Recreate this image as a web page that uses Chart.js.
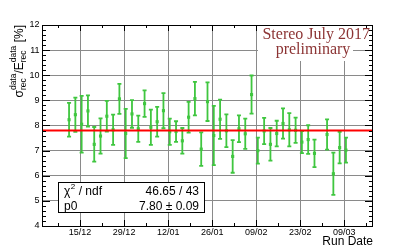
<!DOCTYPE html>
<html>
<head>
<meta charset="utf-8">
<script src="https://cdn.jsdelivr.net/npm/chart.js@4.4.0/dist/chart.umd.min.js"></script>
<style>
  html, body { margin: 0; padding: 0; background: #fff; }
  #wrap { width: 415px; height: 251px; }
</style>
</head>
<body>
<div id="wrap"><canvas id="resChart" width="415" height="251"></canvas></div>
<script>
// run bins (2 days each), day counted from 15/12/2016
const runDays = [-3.5, -1.5, 0.5, 2.5, 4.5, 6.5, 8.5, 10.5, 12.5, 14.5, 16.5, 18.5, 20.5, 22.5, 24.5,
  26.5, 28.5, 30.5, 32.5, 34.5, 36.5, 38.5, 40.5, 42.5, 44.5, 46.5, 48.5, 50.5, 52.5, 54.5,
  56.5, 58.5, 60.5, 62.5, 64.5, 66.5, 68.5, 70.5, 72.5, 74.5, 78.5, 80.5, 82.5, 84.5];
const resolution = [8.23, 8.43, 8.05, 8.58, 7.25, 7.58, 8.37, 7.83, 9.06, 7.68, 8.46, 7.87, 8.87, 7.93, 8.15,
  8.59, 7.75, 7.76, 7.39, 8.33, 9.07, 7.06, 8.95, 7.60, 8.25, 7.79, 6.77, 7.87, 7.67, 9.23,
  7.00, 7.78, 7.25, 7.68, 8.08, 7.83, 7.81, 7.34, 7.44, 6.89, 7.64, 6.08, 7.12, 7.02];
const resolutionErr = [0.67, 0.68, 1.13, 0.62, 0.69, 0.70, 0.61, 0.60, 0.60, 0.98, 0.55, 0.52, 0.53, 0.70, 0.59,
  0.70, 0.52, 0.41, 0.51, 0.61, 0.67, 0.67, 0.77, 1.18, 0.78, 0.65, 0.65, 0.53, 0.60, 0.76,
  0.52, 0.52, 0.65, 0.51, 0.60, 0.66, 0.50, 0.44, 0.57, 0.55, 0.60, 0.84, 0.63, 0.50];

const dateTicks = [0, 14, 28, 42, 56, 70, 84];
const dateLabels = ["15/12", "29/12", "12/01", "26/01", "09/02", "23/02", "09/03"];
const yTicks = [4, 5, 6, 7, 8, 9, 10, 11, 12];

const fitP0 = 7.80, fitP0Err = 0.09, chi2 = 46.65, ndf = 43;

const xMin = -12.1, xMax = 93.1;
const green = "#3fc63f";
const stereoRed = "#8c3434";
Chart.defaults.font.family = '"Liberation Sans", Arial, sans-serif';

// error bars with end caps
const errorBars = {
  id: "errorBars",
  beforeDatasetsDraw(chart) {
    const { ctx, scales: { x, y } } = chart;
    ctx.save();
    ctx.strokeStyle = green;
    ctx.lineWidth = 1.8;
    runDays.forEach((d, i) => {
      const px = x.getPixelForValue(d);
      const top = y.getPixelForValue(resolution[i] + resolutionErr[i]);
      const bot = y.getPixelForValue(resolution[i] - resolutionErr[i]);
      ctx.beginPath();
      ctx.moveTo(px, top); ctx.lineTo(px, bot);
      ctx.moveTo(px - 2, top); ctx.lineTo(px + 2, top);
      ctx.moveTo(px - 2, bot); ctx.lineTo(px + 2, bot);
      ctx.stroke();
    });
    ctx.restore();
  }
};

// frame, inward ticks, title text, stats box
const rootDecor = {
  id: "rootDecor",
  afterDraw(chart) {
    const { ctx, chartArea: a, scales: { x, y } } = chart;
    ctx.save();
    ctx.strokeStyle = "#000";
    ctx.lineWidth = 1;
    ctx.beginPath();
    // x ticks (bottom + top)
    dateTicks.forEach(d => {
      const px = Math.round(x.getPixelForValue(d)) + 0.5;
      ctx.moveTo(px, a.bottom); ctx.lineTo(px, a.bottom - 6);
      ctx.moveTo(px, a.top); ctx.lineTo(px, a.top + 6);
    });
    for (let d = dateTicks[0] - 7; d <= xMax; d += 14) {
      const px = Math.round(x.getPixelForValue(d)) + 0.5;
      ctx.moveTo(px, a.bottom); ctx.lineTo(px, a.bottom - 3);
      ctx.moveTo(px, a.top); ctx.lineTo(px, a.top + 3);
    }
    // y ticks (left + right)
    for (let v = 4; v <= 12.001; v += 0.2) {
      const major = Math.abs(v - Math.round(v)) < 0.01;
      const len = major ? 8 : 4;
      const py = Math.round(y.getPixelForValue(v)) + 0.5;
      ctx.moveTo(a.left, py); ctx.lineTo(a.left + len, py);
      ctx.moveTo(a.right, py); ctx.lineTo(a.right - len, py);
    }
    ctx.stroke();
    ctx.strokeRect(Math.round(a.left) + 0.5, Math.round(a.top) + 0.5,
      Math.round(a.right - a.left) - 1, Math.round(a.bottom - a.top));

    // y title: sigma_rec^data / E_rec^data [%]
    const main = '12px "Liberation Sans"', small = '8.5px "Liberation Sans"';
    ctx.font = main;
    const wSig = ctx.measureText("σ").width, wSl = ctx.measureText("/").width;
    const wE = ctx.measureText("E").width, wTail = ctx.measureText(" [%]").width;
    ctx.font = small;
    const wData = ctx.measureText("data").width;
    const total = wSig + wData + wSl + wE + wData + wTail;
    ctx.save();
    ctx.translate(23, a.top + total);
    ctx.rotate(-Math.PI / 2);
    ctx.fillStyle = "#000";
    ctx.textAlign = "left";
    ctx.textBaseline = "alphabetic";
    let t = 0;
    ctx.font = main; ctx.fillText("σ", t, 0); t += wSig;
    ctx.font = small; ctx.fillText("data", t, -7); ctx.fillText("rec", t, 2.5); t += wData;
    ctx.font = main; ctx.fillText("/", t, 0); t += wSl; ctx.fillText("E", t, 0); t += wE;
    ctx.font = small; ctx.fillText("data", t, -7); ctx.fillText("rec", t, 2.5); t += wData;
    ctx.font = main; ctx.fillText(" [%]", t, 0);
    ctx.restore();

    // Stereo label
    ctx.fillStyle = "#fff";
    ctx.fillRect(258, 26, 95, 35);
    ctx.fillStyle = stereoRed;
    ctx.font = '16px "Liberation Serif", "Times New Roman", serif';
    ctx.textAlign = "right";
    ctx.fillText("Stereo July 2017", 370, 39);
    ctx.textAlign = "center";
    ctx.fillText("preliminary", 313, 54);

    // fit stats box
    ctx.fillStyle = "#fff";
    ctx.fillRect(58.5, 182.5, 146, 30);
    ctx.strokeRect(58.5, 182.5, 146, 30);
    ctx.fillStyle = "#000";
    ctx.font = '12px "Liberation Sans"';
    ctx.textAlign = "left";
    ctx.fillText("χ", 64, 194.5);
    const wChi = ctx.measureText("χ").width;
    ctx.font = '8px "Liberation Sans"';
    ctx.fillText("2", 64 + wChi + 0.5, 189);
    ctx.font = '12px "Liberation Sans"';
    ctx.fillText(" / ndf", 64 + wChi + 5, 194.5);
    ctx.fillText("p0", 64, 209.5);
    ctx.textAlign = "right";
    ctx.fillText(chi2.toFixed(2) + " / " + ndf, 199, 194.5);
    ctx.fillText(fitP0.toFixed(2) + " ± " + fitP0Err.toFixed(2), 199, 209.5);
    ctx.restore();
  }
};

new Chart(document.getElementById("resChart"), {
  type: "scatter",
  data: {
    datasets: [
      {
        label: "fit p0",
        type: "line",
        data: [{ x: xMin, y: fitP0 }, { x: xMax, y: fitP0 }],
        borderColor: "#ff0000",
        borderWidth: 2,
        pointRadius: 0,
        order: 0
      },
      {
        label: "resolution",
        data: runDays.map((d, i) => ({ x: d, y: resolution[i] })),
        pointStyle: "rect",
        pointRadius: 2.2,
        backgroundColor: green,
        borderWidth: 0,
        order: 1
      }
    ]
  },
  options: {
    responsive: false,
    animation: false,
    devicePixelRatio: 1,
    layout: { padding: { top: 25, right: 42, bottom: 0, left: 0 } },
    plugins: { legend: { display: false }, tooltip: { enabled: false } },
    scales: {
      x: {
        type: "linear",
        min: xMin,
        max: xMax,
        afterBuildTicks: s => { s.ticks = dateTicks.map(v => ({ value: v })); },
        afterFit: s => { s.height = 25; },
        ticks: {
          autoSkip: false,
          maxRotation: 0,
          padding: 1,
          color: "#000",
          font: { size: 9 },
          callback: v => dateLabels[dateTicks.indexOf(v)]
        },
        grid: { color: "#8a8a8a", borderDash: [1, 2], lineWidth: 1, drawTicks: false },
        border: { display: false },
        title: {
          display: true,
          text: "Run Date",
          align: "end",
          color: "#000",
          font: { size: 12 },
          padding: { top: 0, bottom: 2 }
        }
      },
      y: {
        min: 4,
        max: 12,
        afterBuildTicks: s => { s.ticks = yTicks.map(v => ({ value: v })); },
        afterFit: s => { s.width = 42; },
        ticks: { padding: 2.5, color: "#000", font: { size: 9 } },
        grid: { color: "#8a8a8a", borderDash: [1, 2], lineWidth: 1, drawTicks: false },
        border: { display: false }
      }
    }
  },
  plugins: [errorBars, rootDecor]
});
</script>
</body>
</html>
